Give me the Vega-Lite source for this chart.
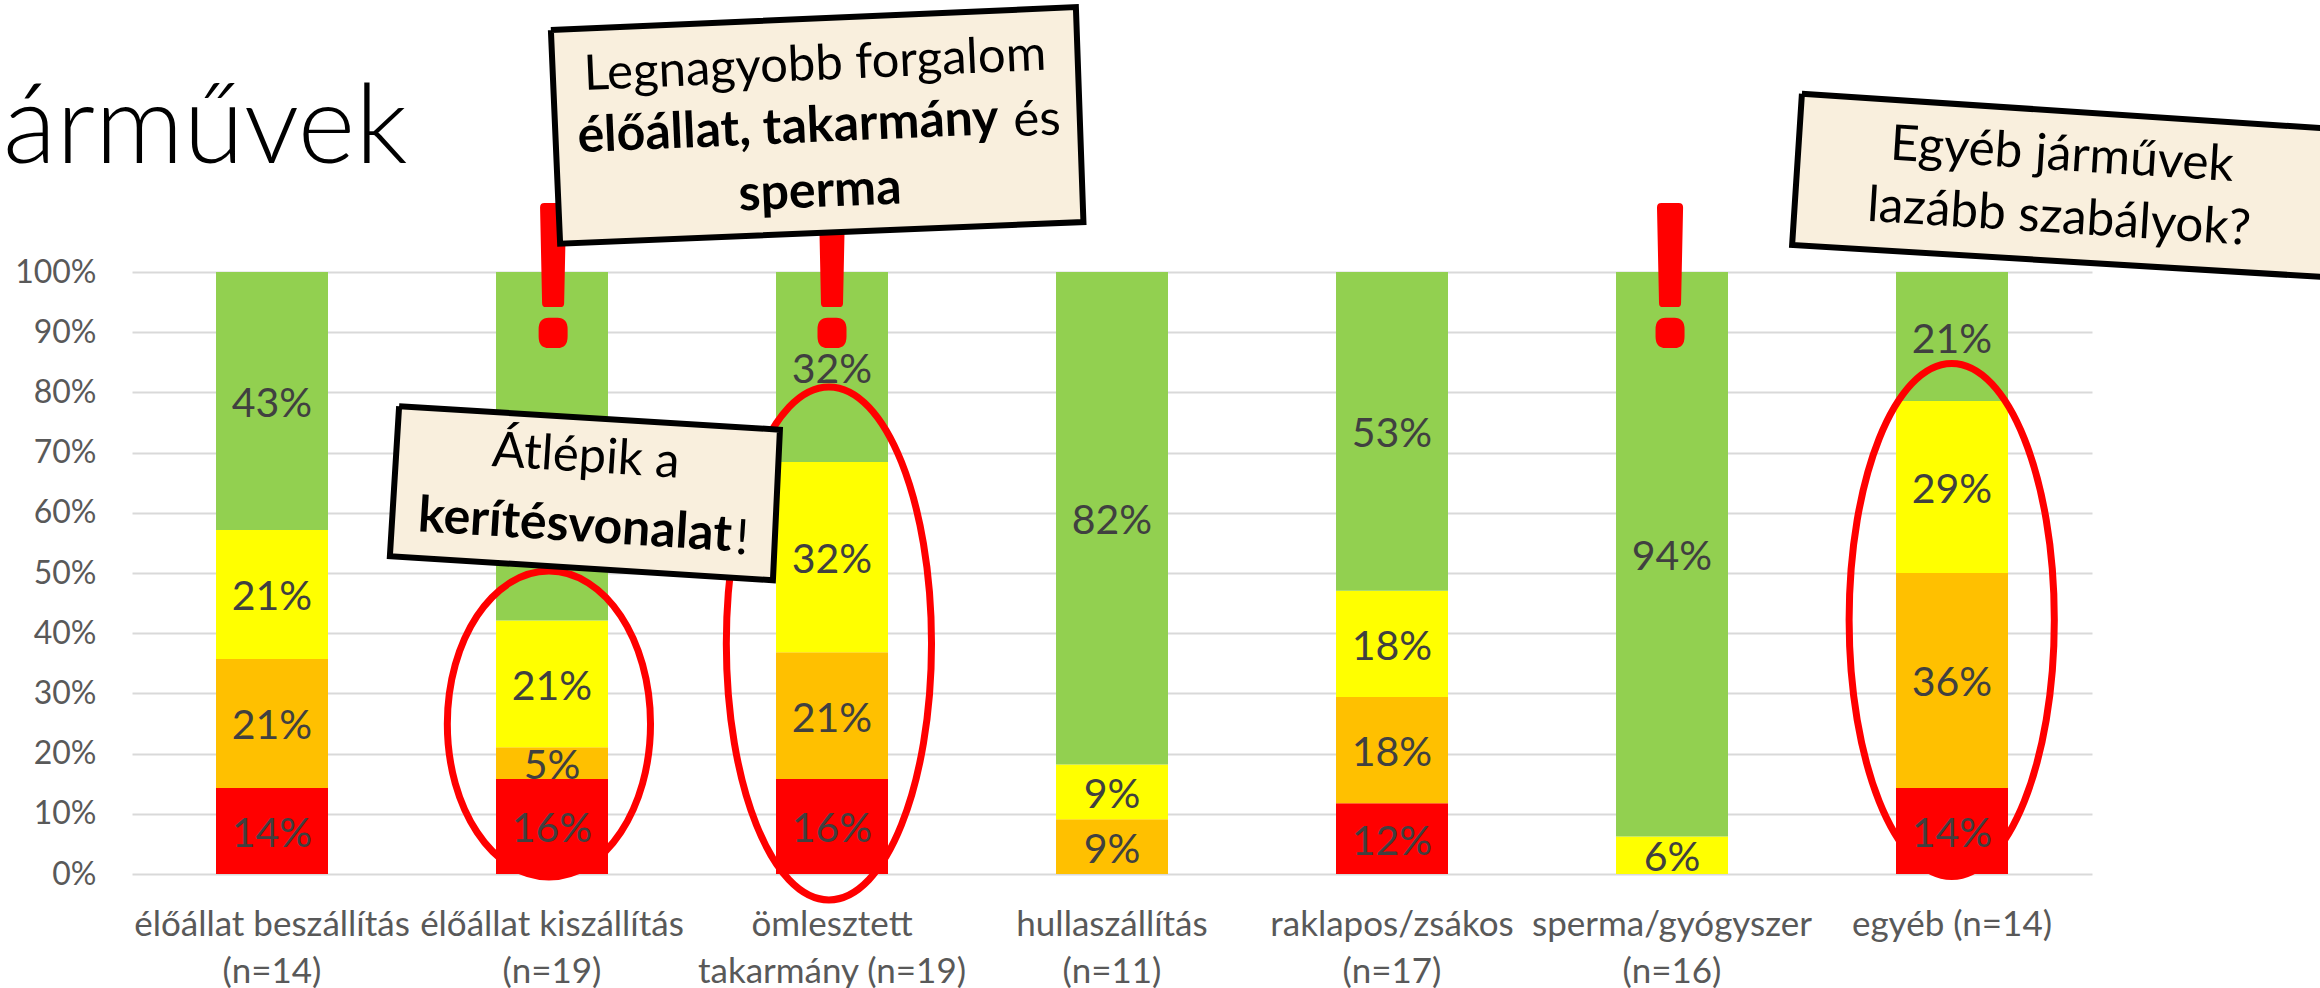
{"$schema":"https://vega.github.io/schema/vega-lite/v6.json","width":1960,"height":602,"autosize":"none","padding":{"left":132,"top":272,"right":228,"bottom":114},"background":"white","config":{"view":{"stroke":null},"text":{"font":"Lato"},"axis":{"labelFont":"Lato"}},
"datasets":{
"bars":[
{"cat":"élőállat beszállítás|(n=14)","series":"piros","rank":1,"share":0.1429},{"cat":"élőállat beszállítás|(n=14)","series":"narancs","rank":2,"share":0.2143},{"cat":"élőállat beszállítás|(n=14)","series":"sárga","rank":3,"share":0.2143},{"cat":"élőállat beszállítás|(n=14)","series":"zöld","rank":4,"share":0.4286},
{"cat":"élőállat kiszállítás|(n=19)","series":"piros","rank":1,"share":0.1579},{"cat":"élőállat kiszállítás|(n=19)","series":"narancs","rank":2,"share":0.0526},{"cat":"élőállat kiszállítás|(n=19)","series":"sárga","rank":3,"share":0.2105},{"cat":"élőállat kiszállítás|(n=19)","series":"zöld","rank":4,"share":0.579},
{"cat":"ömlesztett|takarmány (n=19)","series":"piros","rank":1,"share":0.1579},{"cat":"ömlesztett|takarmány (n=19)","series":"narancs","rank":2,"share":0.2105},{"cat":"ömlesztett|takarmány (n=19)","series":"sárga","rank":3,"share":0.3158},{"cat":"ömlesztett|takarmány (n=19)","series":"zöld","rank":4,"share":0.3158},
{"cat":"hullaszállítás|(n=11)","series":"narancs","rank":2,"share":0.0909},{"cat":"hullaszállítás|(n=11)","series":"sárga","rank":3,"share":0.0909},{"cat":"hullaszállítás|(n=11)","series":"zöld","rank":4,"share":0.8182},
{"cat":"raklapos/zsákos|(n=17)","series":"piros","rank":1,"share":0.1176},{"cat":"raklapos/zsákos|(n=17)","series":"narancs","rank":2,"share":0.1765},{"cat":"raklapos/zsákos|(n=17)","series":"sárga","rank":3,"share":0.1765},{"cat":"raklapos/zsákos|(n=17)","series":"zöld","rank":4,"share":0.5294},
{"cat":"sperma/gyógyszer|(n=16)","series":"sárga","rank":3,"share":0.0625},{"cat":"sperma/gyógyszer|(n=16)","series":"zöld","rank":4,"share":0.9375},
{"cat":"egyéb (n=14)","series":"piros","rank":1,"share":0.1429},{"cat":"egyéb (n=14)","series":"narancs","rank":2,"share":0.3571},{"cat":"egyéb (n=14)","series":"sárga","rank":3,"share":0.2857},{"cat":"egyéb (n=14)","series":"zöld","rank":4,"share":0.2143}
],
"boxes":[
{"box":"a","o":1,"u":1.496,"v":1.402},{"box":"a","o":2,"u":3.371,"v":1.44},{"box":"a","o":3,"u":3.398,"v":1.083},{"box":"a","o":4,"u":1.529,"v":1.047},{"box":"a","o":5,"u":1.496,"v":1.402},
{"box":"b","o":1,"u":0.954,"v":0.777},{"box":"b","o":2,"u":2.314,"v":0.738},{"box":"b","o":3,"u":2.289,"v":0.488},{"box":"b","o":4,"u":0.921,"v":0.528},{"box":"b","o":5,"u":0.954,"v":0.777},
{"box":"c","o":1,"u":5.964,"v":1.296},{"box":"c","o":2,"u":7.886,"v":1.237},{"box":"c","o":3,"u":7.886,"v":0.99},{"box":"c","o":4,"u":5.929,"v":1.045},{"box":"c","o":5,"u":5.964,"v":1.296}
]
},
"layer":[
{"data":{"name":"bars"},"mark":{"type":"bar"},"encoding":{
"x":{"field":"cat","type":"nominal","sort":null,"title":null,"scale":{"paddingInner":0.6,"paddingOuter":0.3},"axis":{"labelExpr":"split(datum.label,'|')","labelAngle":0,"labelFontSize":35,"labelColor":"#595959","labelLineHeight":47,"labelBaseline":"top","labelPadding":33,"domain":false,"ticks":false,"grid":false,"labelLimit":0}},
"y":{"field":"share","type":"quantitative","stack":"zero","title":null,"scale":{"domain":[0,1],"nice":false},"axis":{"values":[0,0.1,0.2,0.3,0.4,0.5,0.6,0.7,0.8,0.9,1],"format":".0%","labelFontSize":32,"labelColor":"#595959","labelPadding":36,"domain":false,"ticks":false,"grid":true,"gridColor":"#d9d9d9","gridWidth":2}},
"order":{"field":"rank","type":"quantitative"},
"color":{"field":"series","type":"nominal","legend":null,"scale":{"domain":["piros","narancs","sárga","zöld"],"range":["#ff0000","#ffc000","#ffff00","#92d050"]}}}},
{"data":{"name":"bars"},"mark":{"type":"text","fontSize":41,"color":"#404040","baseline":"middle","dy":4},"encoding":{
"x":{"field":"cat","type":"nominal","sort":null,"axis":null,"scale":{"paddingInner":0.6,"paddingOuter":0.3}},
"y":{"field":"share","type":"quantitative","stack":"zero","bandPosition":0.5,"axis":null,"scale":{"domain":[0,1],"nice":false}},
"order":{"field":"rank","type":"quantitative"},
"text":{"field":"share","type":"quantitative","format":".0%"}}},
{"data":{"values":[{"u":1.489,"v":0.249}]},"mark":{"type":"point","shape":"M -0.332,0 A 0.332,0.5 0 1 1 0.332,0 A 0.332,0.5 0 1 1 -0.332,0 Z","size":374544,"filled":false,"stroke":"#ff0000","strokeWidth":7,"opacity":1},"encoding":{
"x":{"field":"u","type":"quantitative","axis":null,"scale":{"domain":[0,7],"nice":false}},"y":{"field":"v","type":"quantitative","axis":null,"scale":{"domain":[0,1],"nice":false}}}},
{"data":{"values":[{"u":2.489,"v":0.383},{"u":6.499,"v":0.422}]},"mark":{"type":"point","shape":"M -0.2,0 A 0.2,0.5 0 1 1 0.2,0 A 0.2,0.5 0 1 1 -0.2,0 Z","size":1052676,"filled":false,"stroke":"#ff0000","strokeWidth":7,"opacity":1},"encoding":{
"x":{"field":"u","type":"quantitative","axis":null,"scale":{"domain":[0,7],"nice":false}},"y":{"field":"v","type":"quantitative","axis":null,"scale":{"domain":[0,1],"nice":false}}}},
{"data":{"values":[{"u":1.504,"v":0.994},{"u":2.5,"v":0.994},{"u":5.493,"v":0.994}]},"mark":{"type":"point","shape":"M -0.09,-0.47 Q -0.09,-0.5 -0.06,-0.5 L 0.06,-0.5 Q 0.09,-0.5 0.09,-0.47 L 0.076,0.19 Q 0.076,0.217 0.05,0.217 L -0.05,0.217 Q -0.076,0.217 -0.076,0.19 Z M -0.1,0.37 Q -0.1,0.29 -0.03,0.29 L 0.03,0.29 Q 0.1,0.29 0.1,0.37 L 0.1,0.42 Q 0.1,0.5 0.03,0.5 L -0.03,0.5 Q -0.1,0.5 -0.1,0.42 Z","size":84100,"filled":true,"fill":"#ff0000","strokeWidth":0,"opacity":1},"encoding":{
"x":{"field":"u","type":"quantitative","axis":null,"scale":{"domain":[0,7],"nice":false}},"y":{"field":"v","type":"quantitative","axis":null,"scale":{"domain":[0,1],"nice":false}}}},
{"data":{"name":"boxes"},"mark":{"type":"line","filled":false,"fill":"#f9efdd","stroke":"#000000","strokeWidth":6,"strokeJoin":"miter","interpolate":"linear"},"encoding":{
"x":{"field":"u","type":"quantitative","axis":null,"scale":{"domain":[0,7],"nice":false}},"y":{"field":"v","type":"quantitative","axis":null,"scale":{"domain":[0,1],"nice":false}},"detail":{"field":"box"},"order":{"field":"o","type":"quantitative"}}},
{"data":{"values":[{"u":2.439,"v":1.344,"t":"Legnagyobb forgalom"},{"u":3.232,"v":1.252,"t":"és"}]},"mark":{"type":"text","fontSize":49,"color":"#000000","angle":357.5,"baseline":"middle"},"encoding":{"x":{"field":"u","type":"quantitative","axis":null,"scale":{"domain":[0,7],"nice":false}},"y":{"field":"v","type":"quantitative","axis":null,"scale":{"domain":[0,1],"nice":false}},"text":{"field":"t"}}},
{"data":{"values":[{"u":2.343,"v":1.239,"t":"élőállat, takarmány"},{"u":2.457,"v":1.133,"t":"sperma"}]},"mark":{"type":"text","fontSize":50,"fontWeight":"bold","color":"#000000","angle":357.5,"baseline":"middle"},"encoding":{"x":{"field":"u","type":"quantitative","axis":null,"scale":{"domain":[0,7],"nice":false}},"y":{"field":"v","type":"quantitative","axis":null,"scale":{"domain":[0,1],"nice":false}},"text":{"field":"t"}}},
{"data":{"values":[{"u":1.621,"v":0.693,"t":"Átlépik a"},{"u":2.179,"v":0.556,"t":"!"}]},"mark":{"type":"text","fontSize":49,"color":"#000000","angle":3.6,"baseline":"middle"},"encoding":{"x":{"field":"u","type":"quantitative","axis":null,"scale":{"domain":[0,7],"nice":false}},"y":{"field":"v","type":"quantitative","axis":null,"scale":{"domain":[0,1],"nice":false}},"text":{"field":"t"}}},
{"data":{"values":[{"u":1.582,"v":0.578,"t":"kerítésvonalat"}]},"mark":{"type":"text","fontSize":50,"fontWeight":"bold","color":"#000000","angle":3.6,"baseline":"middle"},"encoding":{"x":{"field":"u","type":"quantitative","axis":null,"scale":{"domain":[0,7],"nice":false}},"y":{"field":"v","type":"quantitative","axis":null,"scale":{"domain":[0,1],"nice":false}},"text":{"field":"t"}}},
{"data":{"values":[{"u":6.893,"v":1.194,"t":"Egyéb járművek"},{"u":6.882,"v":1.09,"t":"lazább szabályok?"}]},"mark":{"type":"text","fontSize":49.5,"color":"#000000","angle":3.6,"baseline":"middle"},"encoding":{"x":{"field":"u","type":"quantitative","axis":null,"scale":{"domain":[0,7],"nice":false}},"y":{"field":"v","type":"quantitative","axis":null,"scale":{"domain":[0,1],"nice":false}},"text":{"field":"t"}}},
{"data":{"values":[{"u":-0.461,"v":1.181,"t":"árművek"}]},"mark":{"type":"text","fontSize":110,"fontWeight":300,"color":"#000000","align":"left","baseline":"alphabetic"},"encoding":{"x":{"field":"u","type":"quantitative","axis":null,"scale":{"domain":[0,7],"nice":false}},"y":{"field":"v","type":"quantitative","axis":null,"scale":{"domain":[0,1],"nice":false}},"text":{"field":"t"}}}
],
"resolve":{"scale":{"x":"independent"},"axis":{"x":"independent","y":"independent"}}}
